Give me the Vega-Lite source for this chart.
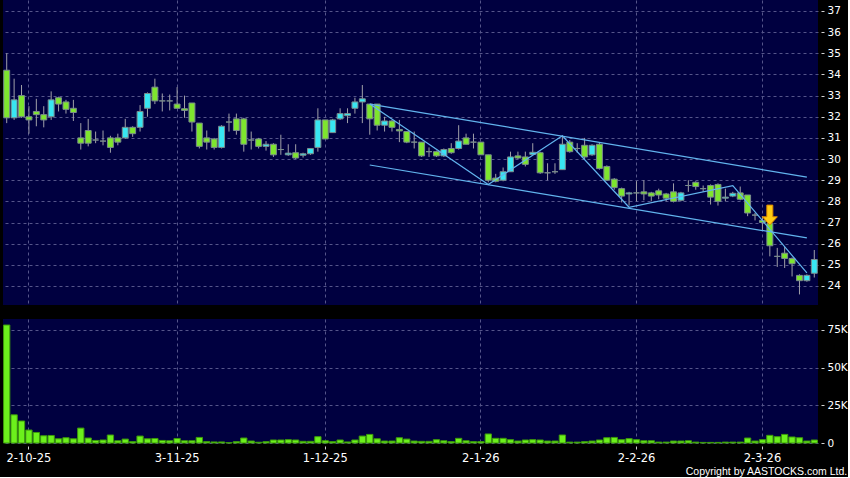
{
"$schema":"https://vega.github.io/schema/vega-lite/v6.json",
"background":"#000000",
"padding":{"left":3,"top":0,"right":0,"bottom":0},
"spacing":14,
"config":{"view":{"fill":"#000040","stroke":null},
"axis":{"gridColor":"#55558a","gridDash":[3,3],"gridWidth":1,"domain":false,"labelColor":"#ffffff","tickColor":"#d0d0d0","labelFont":"DejaVu Sans","labelFontSize":10.5,"labelOverlap":false,"labelFlush":false}},
"title":{"text":"Copyright by AASTOCKS.com Ltd.","orient":"bottom","anchor":"end","frame":"bounds","color":"#ffffff","font":"Liberation Sans","fontSize":10.5,"fontWeight":"normal","offset":3},
"datasets":{
"bars":[
{"d":"2025-09-26","o":34.2,"h":35.0,"l":31.7,"c":31.95,"v":78300},
{"d":"2025-09-29","o":31.95,"h":33.8,"l":31.85,"c":32.8,"v":18700},
{"d":"2025-09-30","o":33.0,"h":33.5,"l":31.95,"c":32.0,"v":14600},
{"d":"2025-10-02","o":32.0,"h":32.5,"l":31.2,"c":31.85,"v":8600},
{"d":"2025-10-03","o":32.25,"h":32.85,"l":31.55,"c":32.1,"v":7000},
{"d":"2025-10-06","o":32.1,"h":32.5,"l":31.5,"c":31.85,"v":4800},
{"d":"2025-10-08","o":32.0,"h":33.2,"l":31.85,"c":32.8,"v":5000},
{"d":"2025-10-09","o":32.9,"h":32.95,"l":32.25,"c":32.6,"v":2800},
{"d":"2025-10-10","o":32.7,"h":32.8,"l":32.15,"c":32.35,"v":3500},
{"d":"2025-10-13","o":32.4,"h":32.8,"l":31.8,"c":32.2,"v":2800},
{"d":"2025-10-14","o":31.0,"h":31.7,"l":30.45,"c":30.75,"v":9900},
{"d":"2025-10-15","o":31.35,"h":31.9,"l":30.6,"c":30.75,"v":3300},
{"d":"2025-10-16","o":30.9,"h":31.3,"l":30.75,"c":30.9,"v":1700},
{"d":"2025-10-17","o":30.85,"h":31.35,"l":30.65,"c":30.85,"v":2000},
{"d":"2025-10-20","o":31.0,"h":31.1,"l":30.3,"c":30.55,"v":5300},
{"d":"2025-10-21","o":31.0,"h":31.2,"l":30.65,"c":30.8,"v":1500},
{"d":"2025-10-22","o":31.0,"h":31.9,"l":30.95,"c":31.5,"v":2600},
{"d":"2025-10-23","o":31.5,"h":31.55,"l":31.05,"c":31.2,"v":900},
{"d":"2025-10-24","o":31.5,"h":32.55,"l":31.3,"c":32.25,"v":4600},
{"d":"2025-10-27","o":32.4,"h":33.15,"l":32.0,"c":33.1,"v":2800},
{"d":"2025-10-28","o":33.4,"h":33.8,"l":32.6,"c":32.75,"v":3000},
{"d":"2025-10-30","o":32.75,"h":33.1,"l":32.25,"c":32.75,"v":1700},
{"d":"2025-10-31","o":32.75,"h":33.05,"l":32.3,"c":32.75,"v":1500},
{"d":"2025-11-03","o":32.6,"h":33.4,"l":32.4,"c":32.4,"v":3000},
{"d":"2025-11-04","o":32.38,"h":33.0,"l":31.95,"c":32.3,"v":1500},
{"d":"2025-11-05","o":32.65,"h":32.65,"l":31.3,"c":31.75,"v":1500},
{"d":"2025-11-06","o":31.7,"h":31.7,"l":30.5,"c":30.6,"v":3700},
{"d":"2025-11-07","o":31.0,"h":31.35,"l":30.45,"c":30.8,"v":900},
{"d":"2025-11-10","o":30.95,"h":31.0,"l":30.45,"c":30.55,"v":700},
{"d":"2025-11-11","o":30.55,"h":31.6,"l":30.5,"c":31.55,"v":700},
{"d":"2025-11-12","o":31.75,"h":32.15,"l":31.3,"c":31.75,"v":200},
{"d":"2025-11-13","o":31.9,"h":32.15,"l":31.15,"c":31.35,"v":900},
{"d":"2025-11-14","o":31.9,"h":31.95,"l":30.35,"c":30.7,"v":3300},
{"d":"2025-11-17","o":30.9,"h":31.3,"l":30.45,"c":30.9,"v":1300},
{"d":"2025-11-18","o":30.95,"h":31.0,"l":30.5,"c":30.6,"v":500},
{"d":"2025-11-19","o":30.6,"h":30.85,"l":30.4,"c":30.7,"v":900},
{"d":"2025-11-20","o":30.7,"h":30.75,"l":30.1,"c":30.2,"v":2000},
{"d":"2025-11-21","o":30.45,"h":31.15,"l":30.2,"c":30.45,"v":2000},
{"d":"2025-11-24","o":30.2,"h":30.7,"l":30.15,"c":30.28,"v":2200},
{"d":"2025-11-25","o":30.3,"h":30.7,"l":30.0,"c":30.05,"v":2000},
{"d":"2025-11-26","o":30.18,"h":30.3,"l":30.07,"c":30.25,"v":1100},
{"d":"2025-11-27","o":30.25,"h":30.5,"l":30.2,"c":30.5,"v":1100},
{"d":"2025-11-28","o":30.55,"h":32.4,"l":30.35,"c":31.85,"v":4200},
{"d":"2025-12-01","o":31.85,"h":31.85,"l":30.95,"c":30.95,"v":1500},
{"d":"2025-12-02","o":31.25,"h":31.9,"l":31.25,"c":31.85,"v":900},
{"d":"2025-12-03","o":31.9,"h":32.4,"l":31.85,"c":32.15,"v":2000},
{"d":"2025-12-04","o":32.05,"h":32.4,"l":31.7,"c":32.15,"v":700},
{"d":"2025-12-05","o":32.4,"h":32.9,"l":32.15,"c":32.7,"v":2000},
{"d":"2025-12-08","o":32.7,"h":33.5,"l":31.7,"c":32.85,"v":4600},
{"d":"2025-12-09","o":32.6,"h":32.6,"l":31.15,"c":31.9,"v":5700},
{"d":"2025-12-10","o":32.6,"h":32.6,"l":31.35,"c":31.6,"v":2800},
{"d":"2025-12-11","o":31.6,"h":32.0,"l":31.3,"c":31.8,"v":1300},
{"d":"2025-12-12","o":31.8,"h":31.85,"l":31.3,"c":31.5,"v":1300},
{"d":"2025-12-15","o":31.4,"h":31.85,"l":30.8,"c":31.33,"v":3500},
{"d":"2025-12-16","o":31.3,"h":31.3,"l":30.75,"c":30.8,"v":2600},
{"d":"2025-12-17","o":30.8,"h":31.3,"l":30.5,"c":30.8,"v":1300},
{"d":"2025-12-18","o":30.8,"h":30.8,"l":30.1,"c":30.15,"v":1100},
{"d":"2025-12-19","o":30.35,"h":30.55,"l":30.1,"c":30.35,"v":1100},
{"d":"2025-12-22","o":30.35,"h":30.4,"l":30.1,"c":30.15,"v":2200},
{"d":"2025-12-23","o":30.15,"h":30.5,"l":30.1,"c":30.45,"v":1500},
{"d":"2025-12-24","o":30.5,"h":30.75,"l":30.25,"c":30.3,"v":900},
{"d":"2025-12-29","o":30.5,"h":31.6,"l":30.45,"c":30.85,"v":3100},
{"d":"2025-12-30","o":31.0,"h":31.2,"l":30.7,"c":30.7,"v":1500},
{"d":"2025-12-31","o":30.8,"h":31.2,"l":30.5,"c":30.8,"v":900},
{"d":"2026-01-02","o":30.8,"h":30.8,"l":30.2,"c":30.2,"v":900},
{"d":"2026-01-05","o":30.2,"h":30.2,"l":28.9,"c":29.0,"v":6000},
{"d":"2026-01-06","o":29.1,"h":29.3,"l":28.9,"c":28.95,"v":3100},
{"d":"2026-01-07","o":29.0,"h":29.6,"l":28.95,"c":29.4,"v":3100},
{"d":"2026-01-08","o":29.4,"h":30.35,"l":29.4,"c":30.1,"v":2200},
{"d":"2026-01-09","o":30.15,"h":30.35,"l":30.0,"c":30.05,"v":1300},
{"d":"2026-01-12","o":30.1,"h":30.35,"l":29.65,"c":29.75,"v":2000},
{"d":"2026-01-13","o":30.22,"h":30.75,"l":30.2,"c":30.32,"v":2200},
{"d":"2026-01-14","o":30.3,"h":30.35,"l":29.3,"c":29.35,"v":2000},
{"d":"2026-01-15","o":29.35,"h":29.8,"l":29.0,"c":29.35,"v":1300},
{"d":"2026-01-16","o":29.4,"h":29.8,"l":29.3,"c":29.4,"v":1300},
{"d":"2026-01-19","o":29.5,"h":31.1,"l":29.5,"c":30.7,"v":5300},
{"d":"2026-01-20","o":30.8,"h":30.9,"l":30.3,"c":30.35,"v":600},
{"d":"2026-01-21","o":30.5,"h":30.75,"l":30.3,"c":30.5,"v":600},
{"d":"2026-01-22","o":30.65,"h":31.0,"l":30.0,"c":30.1,"v":900},
{"d":"2026-01-23","o":30.2,"h":30.7,"l":30.15,"c":30.65,"v":1300},
{"d":"2026-01-26","o":30.7,"h":30.8,"l":29.5,"c":29.55,"v":2000},
{"d":"2026-01-27","o":29.65,"h":29.7,"l":29.0,"c":29.0,"v":3500},
{"d":"2026-01-28","o":29.05,"h":29.1,"l":28.55,"c":28.65,"v":3700},
{"d":"2026-01-29","o":28.6,"h":28.65,"l":27.95,"c":28.25,"v":2200},
{"d":"2026-01-30","o":28.35,"h":28.45,"l":27.8,"c":28.4,"v":2900},
{"d":"2026-02-02","o":28.4,"h":28.95,"l":28.0,"c":28.4,"v":2200},
{"d":"2026-02-03","o":28.45,"h":29.0,"l":28.05,"c":28.35,"v":1500},
{"d":"2026-02-04","o":28.4,"h":28.45,"l":28.0,"c":28.25,"v":1500},
{"d":"2026-02-05","o":28.5,"h":28.6,"l":28.1,"c":28.3,"v":600},
{"d":"2026-02-06","o":28.35,"h":28.4,"l":28.0,"c":28.15,"v":600},
{"d":"2026-02-09","o":28.45,"h":28.85,"l":27.95,"c":28.0,"v":1300},
{"d":"2026-02-10","o":28.05,"h":28.45,"l":28.0,"c":28.4,"v":1300},
{"d":"2026-02-11","o":28.75,"h":29.0,"l":28.45,"c":28.75,"v":1500},
{"d":"2026-02-12","o":28.9,"h":28.95,"l":28.55,"c":28.7,"v":600},
{"d":"2026-02-13","o":28.6,"h":28.75,"l":28.45,"c":28.6,"v":400},
{"d":"2026-02-16","o":28.75,"h":28.8,"l":27.85,"c":28.2,"v":400},
{"d":"2026-02-20","o":28.8,"h":28.85,"l":27.8,"c":28.0,"v":400},
{"d":"2026-02-23","o":28.15,"h":28.6,"l":28.0,"c":28.2,"v":600},
{"d":"2026-02-24","o":28.25,"h":28.45,"l":28.2,"c":28.38,"v":600},
{"d":"2026-02-25","o":28.4,"h":28.7,"l":28.05,"c":28.1,"v":600},
{"d":"2026-02-26","o":28.3,"h":28.3,"l":27.3,"c":27.45,"v":3300},
{"d":"2026-02-27","o":27.35,"h":27.45,"l":27.1,"c":27.35,"v":1300},
{"d":"2026-03-02","o":27.1,"h":27.3,"l":26.65,"c":27.0,"v":2200},
{"d":"2026-03-03","o":26.95,"h":27.0,"l":25.4,"c":25.9,"v":5100},
{"d":"2026-03-04","o":25.4,"h":25.8,"l":24.9,"c":25.4,"v":4200},
{"d":"2026-03-05","o":25.55,"h":25.85,"l":24.85,"c":25.3,"v":5700},
{"d":"2026-03-06","o":25.3,"h":25.35,"l":24.45,"c":25.05,"v":4000},
{"d":"2026-03-09","o":24.5,"h":24.55,"l":23.6,"c":24.25,"v":3500},
{"d":"2026-03-10","o":24.25,"h":24.55,"l":24.2,"c":24.5,"v":1300},
{"d":"2026-03-11","o":24.6,"h":25.7,"l":24.4,"c":25.25,"v":2000}
],
"channel":[
{"d1":"2025-12-09","p1":32.6,"d2":"2026-03-10","p2":29.15},
{"d1":"2025-12-09","p1":29.72,"d2":"2026-03-10","p2":26.27}
],
"zig":[
{"d":"2025-12-09","p":32.6},
{"d":"2026-01-05","p":28.8},
{"d":"2026-01-19","p":31.1},
{"d":"2026-01-30","p":27.72},
{"d":"2026-02-24","p":28.74},
{"d":"2026-03-10","p":24.62}
],
"arrow":[{"d":"2026-03-03","p":27.35}]
},
"resolve":{"scale":{"x":"shared","y":"independent"}},
"vconcat":[
{"width":815,"height":305,
"layer":[
{"data":{"name":"bars"},"mark":{"type":"rule","color":"#a0a0a8","strokeWidth":1},
"encoding":{
"x":{"field":"d","type":"ordinal","title":null,"scale":{"type":"band","paddingInner":0,"paddingOuter":0},
"axis":{"values":["2025-10-02","2025-11-03","2025-12-01","2026-01-02","2026-02-02","2026-03-02"],"labels":false,"ticks":false,"grid":true,"domain":false}},
"y":{"field":"l","type":"quantitative","title":null,"scale":{"domain":[23.1,37.52],"nice":false,"zero":false},
"axis":{"orient":"right","values":[24,25,26,27,28,29,30,31,32,33,34,35,36,37],"offset":3,"tickSize":3,"labelPadding":3,"grid":true,"labelOverlap":false}},
"y2":{"field":"h"}}},
{"data":{"name":"bars"},"mark":{"type":"bar","width":{"band":0.8},"stroke":"#7a8c8c","strokeWidth":1},
"encoding":{
"x":{"field":"d","type":"ordinal","title":null},
"y":{"field":"o","type":"quantitative","title":null,"scale":{"domain":[23.1,37.52],"nice":false,"zero":false},
"axis":{"orient":"right","values":[24,25,26,27,28,29,30,31,32,33,34,35,36,37],"offset":3,"tickSize":3,"labelPadding":3,"grid":true,"labelOverlap":false}},
"y2":{"field":"c"},
"fill":{"condition":[{"test":"datum.c > datum.o","value":"#38e6f2"},{"test":"datum.c < datum.o","value":"#7ee52e"}],"value":"#9a9a9a"}}},
{"data":{"name":"channel"},"mark":{"type":"rule","color":"#62b4ee","strokeWidth":1.2},
"encoding":{
"x":{"field":"d1","type":"ordinal","title":null},
"x2":{"field":"d2"},
"y":{"field":"p1","type":"quantitative","title":null,"scale":{"domain":[23.1,37.52],"nice":false,"zero":false},
"axis":{"orient":"right","values":[24,25,26,27,28,29,30,31,32,33,34,35,36,37],"offset":3,"tickSize":3,"labelPadding":3,"grid":true,"labelOverlap":false}},
"y2":{"field":"p2"}}},
{"data":{"name":"zig"},"mark":{"type":"line","color":"#62b4ee","strokeWidth":1.2},
"encoding":{
"x":{"field":"d","type":"ordinal","title":null},
"y":{"field":"p","type":"quantitative","title":null,"scale":{"domain":[23.1,37.52],"nice":false,"zero":false},
"axis":{"orient":"right","values":[24,25,26,27,28,29,30,31,32,33,34,35,36,37],"offset":3,"tickSize":3,"labelPadding":3,"grid":true,"labelOverlap":false}}}},
{"data":{"name":"arrow"},"mark":{"type":"point","filled":true,"shape":"M-0.3,-1L0.3,-1L0.3,0.17L0.75,0.17L0,1L-0.75,0.17L-0.3,0.17Z","size":400,"fill":"#ffcc11","stroke":"#dd8800","strokeWidth":1,"opacity":1},
"encoding":{
"x":{"field":"d","type":"ordinal","title":null},
"y":{"field":"p","type":"quantitative","title":null,"scale":{"domain":[23.1,37.52],"nice":false,"zero":false},
"axis":{"orient":"right","values":[24,25,26,27,28,29,30,31,32,33,34,35,36,37],"offset":3,"tickSize":3,"labelPadding":3,"grid":true,"labelOverlap":false}}}}
]},
{"width":815,"height":124,
"data":{"name":"bars"},
"mark":{"type":"bar","width":{"band":0.85},"fill":"#6cf01c","stroke":"#3c9a0a","strokeWidth":1},
"encoding":{
"x":{"field":"d","type":"ordinal","title":null,"scale":{"type":"band","paddingInner":0,"paddingOuter":0},
"axis":{"values":["2025-10-02","2025-11-03","2025-12-01","2026-01-02","2026-02-02","2026-03-02"],"labelExpr":"toNumber(slice(datum.value,8,10)) + '-' + toNumber(slice(datum.value,5,7)) + '-' + slice(datum.value,2,4)","labelAngle":0,"labelFontSize":11.5,"offset":3,"tickSize":3,"labelPadding":3,"grid":true,"domain":false}},
"y":{"field":"v","type":"quantitative","title":null,"scale":{"domain":[0,82300],"nice":false},
"axis":{"orient":"right","values":[0,25000,50000,75000],"labelExpr":"datum.value == 0 ? '0' : format(datum.value/1000,'d') + 'K'","offset":3,"tickSize":3,"labelPadding":3,"grid":true,"labelOverlap":false}}}}
]
}
